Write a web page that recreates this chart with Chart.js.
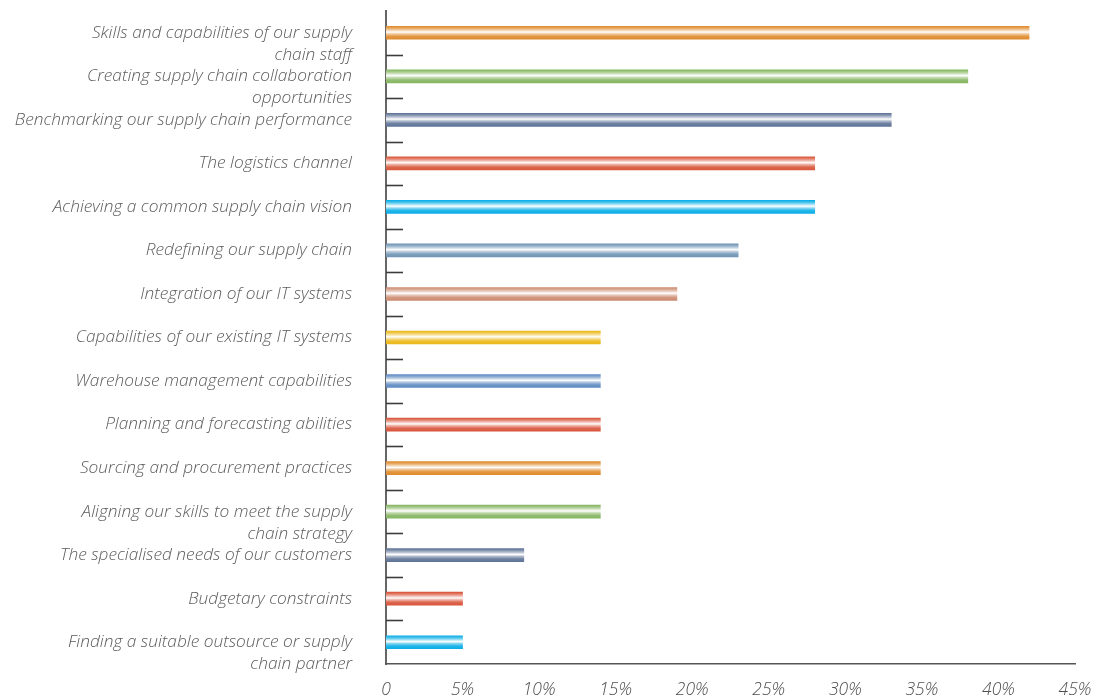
<!DOCTYPE html>
<html>
<head>
<meta charset="utf-8">
<title>Supply chain challenges</title>
<script src="https://cdn.jsdelivr.net/npm/chart.js@4/dist/chart.umd.min.js"></script>
<style>
  html, body { margin: 0; padding: 0; background: #fff; }
  #wrap { width: 1094px; height: 699px; }
</style>
</head>
<body>
<div id="wrap"><canvas id="challengesChart" width="1094" height="699"></canvas></div>
<script>
// categories, top to bottom
const categories = [
  ['Skills and capabilities of our supply', 'chain staff'],
  ['Creating supply chain collaboration', 'opportunities'],
  'Benchmarking our supply chain performance',
  'The logistics channel',
  'Achieving a common supply chain vision',
  'Redefining our supply chain',
  'Integration of our IT systems',
  'Capabilities of our existing IT systems',
  'Warehouse management capabilities',
  'Planning and forecasting abilities',
  'Sourcing and procurement practices',
  ['Aligning our skills to meet the supply', 'chain strategy'],
  'The specialised needs of our customers',
  'Budgetary constraints',
  ['Finding a suitable outsource or supply', 'chain partner']
];

// share of respondents, %
const shares = [42, 38, 33, 28, 28, 23, 19, 14, 14, 14, 14, 14, 9, 5, 5];

const xTicks = [0, 5, 10, 15, 20, 25, 30, 35, 40, 45];

const barColors = [
  '#e08b2d', '#86b662', '#5f7498', '#d9583c', '#0aaee6',
  '#7095b6', '#cd8b70', '#ebb817', '#5f8bc4', '#d9553b',
  '#e08b2d', '#86b662', '#5f7498', '#d9553b', '#0aaee6'
];

const labelFont = { family: "'Open Sans', 'DejaVu Sans', sans-serif", size: 17.3, style: 'italic', weight: 300, lineHeight: 1.28 };
const tickFont = { family: "'Open Sans', 'DejaVu Sans', sans-serif", size: 17.5, style: 'italic', weight: 300 };
const BAR_H = 13;

function mix(hex, t) {
  // blend colour toward white by t (0..1)
  const n = parseInt(hex.slice(1), 16);
  const r = n >> 16, g = (n >> 8) & 255, b = n & 255;
  const f = c => Math.round(c + (255 - c) * t);
  return `rgb(${f(r)},${f(g)},${f(b)})`;
}

// glossy stripe fill across the bar height
function barFill(ctx) {
  const base = barColors[ctx.dataIndex];
  const chart = ctx.chart;
  if (!chart.chartArea || !chart.scales.y) return base;
  const yc = chart.scales.y.getPixelForValue(ctx.dataIndex);
  const g = chart.ctx.createLinearGradient(0, yc - BAR_H / 2, 0, yc + BAR_H / 2);
  g.addColorStop(0, base);
  g.addColorStop(0.15, mix(base, 0.25));
  g.addColorStop(0.3, mix(base, 0.6));
  g.addColorStop(0.45, '#ffffff');
  g.addColorStop(0.58, mix(base, 0.55));
  g.addColorStop(0.78, mix(base, 0.1));
  g.addColorStop(1, base);
  return g;
}

// short marks between categories, drawn inward from the y axis
const innerTicks = {
  id: 'innerTicks',
  afterDraw(chart) {
    const y = chart.scales.y;
    const x0 = chart.chartArea.left;
    const c = chart.ctx;
    c.save();
    c.strokeStyle = '#3c3c3c';
    c.lineWidth = 1.6;
    for (let i = 0; i < categories.length - 1; i++) {
      const py = Math.round((y.getPixelForValue(i) + y.getPixelForValue(i + 1)) / 2) + 0.5;
      c.beginPath();
      c.moveTo(x0, py);
      c.lineTo(x0 + 17, py);
      c.stroke();
    }
    c.restore();
  }
};

new Chart(document.getElementById('challengesChart'), {
  type: 'bar',
  data: {
    labels: categories,
    datasets: [{
      data: shares,
      backgroundColor: barFill,
      borderWidth: 0,
      barThickness: BAR_H
    }]
  },
  options: {
    indexAxis: 'y',
    responsive: false,
    animation: false,
    layout: { padding: { top: 11, right: 19, bottom: 0, left: 0 } },
    plugins: { legend: { display: false }, tooltip: { enabled: false } },
    scales: {
      y: {
        grid: { display: false, drawTicks: false },
        border: { display: true, color: '#666', width: 2 },
        ticks: {
          color: '#5c5c5c',
          font: labelFont,
          padding: 34,
          autoSkip: false,
          // keep the first line of a wrapped label level with its bar
          callback(v, i) {
            const l = categories[i];
            return Array.isArray(l) ? [''].concat(l) : l;
          }
        },
        afterFit(scale) {
          scale.width = 386;
          scale.paddingTop = 0;
          scale.paddingBottom = 0;
        }
      },
      x: {
        min: 0,
        max: 45,
        grid: { display: false, drawTicks: false },
        border: { display: true, color: '#555', width: 1.5 },
        afterBuildTicks(scale) {
          scale.ticks = xTicks.map(v => ({ value: v }));
        },
        ticks: {
          color: '#4f4f4f',
          font: tickFont,
          padding: 16,
          maxRotation: 0,
          autoSkip: false,
          callback: v => v === 0 ? '0' : v + '%'
        },
        afterFit(scale) {
          scale.height = 35;
          scale.paddingLeft = 0;
          scale.paddingRight = 0;
        }
      }
    }
  },
  plugins: [innerTicks]
});
</script>
</body>
</html>
